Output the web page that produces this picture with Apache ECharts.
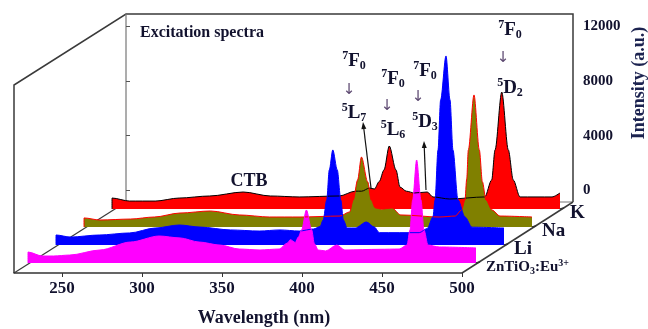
<!DOCTYPE html>
<html>
<head>
<meta charset="utf-8">
<script src="https://cdn.jsdelivr.net/npm/echarts@6/dist/echarts.min.js"></script>
</head>
<body style="margin:0">
<div id="chart" style="width:648px;height:329px"></div>
<script>
// spectra: wavelength (nm) and intensity (a.u.)
var znWl  = [220, 229, 236, 246, 265, 284, 302, 315, 327, 340, 352, 365, 377, 382, 384, 387, 389, 391, 394, 397.3, 399, 401.4, 406, 413, 418, 440, 452, 456.9, 458.75, 460.4, 462.9, 465.6, 467.5, 470, 477, 500];
var znInt = [800, 510, 510, 580, 950, 1530, 1970, 1830, 1530, 1310, 1020, 950, 1020, 1450, 1700, 1500, 1900, 2410, 3870, 2410, 1400, 950, 880, 1310, 950, 1000, 1020, 1310, 2410, 4600, 7520, 4600, 2410, 1310, 1170, 1100];

var liWl  = [220, 229, 247, 266, 282, 297, 310, 329, 347, 360, 372, 381, 385, 387, 389.2, 390.8, 393, 395.8, 398, 399.6, 402, 407, 414, 419, 422, 447, 452, 455.6, 456.9, 458.75, 460.4, 463.75, 466.25, 468.1, 471.25, 475.6, 480, 500];
var liInt = [730, 580, 730, 880, 1240, 1460, 1310, 1100, 1020, 1100, 1020, 1170, 1350, 1830, 3290, 5480, 6940, 5480, 3290, 1830, 1240, 1240, 1680, 1310, 900, 900, 1200, 2050, 3290, 6940, 10600, 13800, 10600, 6940, 3290, 2050, 1300, 1240];

var naWl  = [220, 230, 249, 264, 280, 299, 317, 336, 355, 380, 386, 388.3, 391, 393.4, 397.3, 399.5, 402, 406, 412.5, 418, 442, 452, 456, 458.1, 459.2, 460.2, 463.75, 467.1, 469, 471.25, 475, 480, 500];
var naInt = [660, 510, 580, 730, 1020, 1170, 880, 730, 730, 800, 1100, 1970, 3430, 5110, 3300, 1970, 1400, 1300, 1390, 880, 730, 800, 1240, 1970, 3500, 5620, 9640, 5620, 3300, 1970, 1240, 800, 730];

var kWl  = [220, 231, 247, 262, 281, 302, 319, 337, 362, 372, 376, 381, 384, 387, 390, 393.3, 397.5, 400, 404, 409, 417, 420.6, 431, 453, 457.3, 459.4, 463.6, 467.7, 470.8, 475, 495, 500];
var kInt = [800, 580, 580, 800, 950, 1240, 950, 880, 950, 1300, 1300, 1530, 1460, 2000, 2850, 4600, 2850, 1600, 1300, 1170, 1240, 880, 730, 880, 2120, 4310, 8540, 4310, 2120, 880, 880, 1170];

var samples = ['ZnTiO3:Eu3+', 'Li', 'Na', 'K'];          // front -> back
var sampleLabels = ['{m|ZnTiO}{d|3}{m|:Eu}{s|3+}', '{m|Li}', '{m|Na}', '{m|K}'];
var wlTicks = [250, 300, 350, 400, 450, 500];
var intTicks = [0, 4000, 8000, 12000];
var levels = ['5L7', '5L6', '5D3', '5D2'];

var FONT = '"Liberation Serif", "Times New Roman", serif';
var INK = '#12122e';

var ribbons = [
  {wl: znWl, val: znInt, fill: '#ff00ff', line: '#ff00ff'},
  {wl: liWl, val: liInt, fill: '#0000ff', line: '#0000ff'},
  {wl: naWl, val: naInt, fill: '#808000', line: '#ff0000'},
  {wl: kWl,  val: kInt,  fill: '#ff0000', line: '#000000'}
];

// pseudo 3d geometry
var fx = 14, fy = 273, plotW = 448;      // front plane
var bx = 126, by = 202, ty = 14, lx = 85; // back plane
var stepX = 28, stepY = 18;
var unitsPerPx = 73, yMax = 15000, gridH = yMax / unitsPerPx;

var grids = [], xAxes = [], yAxes = [], series = [];
ribbons.forEach(function (r, k) {
  var base = fy - 10 - stepY * k;
  grids.push({left: fx + 14 + stepX * k, top: base - gridH, width: plotW, height: gridH});
  xAxes.push({type: 'value', gridIndex: k, min: 220, max: 500, show: false});
  yAxes.push({type: 'value', gridIndex: k, min: 0, max: yMax, show: false});
});
for (var k = ribbons.length - 1; k >= 0; k--) {
  var r = ribbons[k];
  var pts = [[r.wl[0], 0]];
  r.wl.forEach(function (w, i) { pts.push([w, r.val[i]]); });
  series.push({
    type: 'line', xAxisIndex: k, yAxisIndex: k, data: pts,
    smooth: 0.3, smoothMonotone: 'x', showSymbol: false, silent: true,
    lineStyle: {color: r.line, width: 1},
    areaStyle: {color: r.fill, opacity: 1}
  });
}

// front wavelength axis
grids.push({left: fx, top: fy - 100, width: plotW, height: 100});
xAxes.push({
  type: 'value', gridIndex: 4, min: 220, max: 500,
  axisLine: {lineStyle: {color: '#333', width: 1.5}},
  axisTick: {length: 4, customValues: wlTicks, lineStyle: {color: '#333'}},
  axisLabel: {customValues: wlTicks, margin: 7, fontFamily: FONT, fontWeight: 'bold', fontSize: 17, color: INK},
  splitLine: {show: false}
});
yAxes.push({type: 'value', gridIndex: 4, show: false});

// back intensity axis
grids.push({left: bx, top: 26, width: 447, height: 164.6});
xAxes.push({type: 'value', gridIndex: 5, show: false});
yAxes.push({
  type: 'value', gridIndex: 5, position: 'right', min: 0, max: 12000, interval: 4000,
  axisLine: {show: false},
  axisTick: {show: true, length: 4, customValues: intTicks, lineStyle: {color: '#555'}},
  axisLabel: {margin: 10, customValues: intTicks, formatter: function (v) { return String(v); },
    fontFamily: FONT, fontWeight: 'bold', fontSize: 15, color: INK},
  splitLine: {show: false}
});

var bR = bx + plotW - 1;
var frame = {stroke: '#3a3a3a', lineWidth: 1.5, fill: null};
var graphics = [
  {type: 'polyline', z: 0, shape: {points: [[fx, fy], [fx, lx], [bx, ty], [bR, ty], [bR, by]]}, style: frame},
  {type: 'polyline', z: 0, shape: {points: [[bx, ty], [bx, by], [bR, by]]}, style: {stroke: '#777', lineWidth: 1.2, fill: null}},
  {type: 'polyline', z: 0, shape: {points: [[fx, fy], [bx, by]]}, style: {stroke: '#3a3a3a', lineWidth: 1.2, fill: null}},
  {type: 'polyline', z: 0, shape: {points: [[fx + plotW, fy], [bR, by]]}, style: frame}
];

function richSet(main, small, lh) {
  return {
    m: {fontFamily: FONT, fontWeight: 'bold', fontSize: main, lineHeight: lh, fill: INK},
    s: {fontFamily: FONT, fontWeight: 'bold', fontSize: small, verticalAlign: 'top', fill: INK},
    d: {fontFamily: FONT, fontWeight: 'bold', fontSize: small, verticalAlign: 'bottom', fill: INK}
  };
}

// sample ticks and labels along the depth axis
samples.forEach(function (s, k) {
  var tx = fx + plotW + 18 + stepX * k, tyy = fy - 11 - stepY * k;
  graphics.push({type: 'line', z: 0, shape: {x1: tx, y1: tyy, x2: tx - 4, y2: tyy + 1}, style: {stroke: '#333', lineWidth: 1.5}});
  graphics.push({type: 'text', z: 10, x: tx + 6, y: tyy + 5, style: {
    text: sampleLabels[k], rich: richSet(k === 0 ? 15 : 19, 10, 18), align: 'left', verticalAlign: 'middle'}});
});

// transition labels
var transPos = [[354, 61, 349, 90, 113], [393, 79, 387, 106, 130], [425, 71, 418, 97, 122], [510, 30, 503, 58, 88]];
levels.forEach(function (lv, i) {
  var p = transPos[i];
  graphics.push({type: 'text', z: 10, x: p[0], y: p[1], style: {text: '{s|7}{m|F}{d|0}', rich: richSet(19, 12, 22), align: 'center', verticalAlign: 'middle'}});
  graphics.push({type: 'text', z: 10, x: p[2], y: p[3], style: {text: '\u2193', font: '15px "DejaVu Sans"', fill: '#5e4a72', align: 'center', verticalAlign: 'middle'}});
  graphics.push({type: 'text', z: 10, x: p[0], y: p[4], style: {text: '{s|' + lv[0] + '}{m|' + lv[1] + '}{d|' + lv[2] + '}', rich: richSet(19, 12, 22), align: 'center', verticalAlign: 'middle'}});
});

function arrow(x1, y1, x2, y2) {
  var dx = x2 - x1, dy = y2 - y1, len = Math.sqrt(dx * dx + dy * dy), ux = dx / len, uy = dy / len;
  var hx = x2 - ux * 7, hy = y2 - uy * 7;
  return [
    {type: 'line', z: 20, shape: {x1: x1, y1: y1, x2: hx, y2: hy}, style: {stroke: '#111', lineWidth: 1.2}},
    {type: 'polygon', z: 20, shape: {points: [[x2, y2], [hx - uy * 2.5, hy + ux * 2.5], [hx + uy * 2.5, hy - ux * 2.5]]}, style: {fill: '#111'}}
  ];
}
graphics = graphics.concat(arrow(371, 188, 363, 122), arrow(426, 190, 424, 141));

graphics.push(
  {type: 'text', z: 10, x: 140, y: 33, style: {text: 'Excitation spectra', font: 'bold 16px ' + FONT, fill: INK, verticalAlign: 'middle'}},
  {type: 'text', z: 10, x: 249, y: 181, style: {text: 'CTB', font: 'bold 18px ' + FONT, fill: INK, align: 'center', verticalAlign: 'middle'}},
  {type: 'text', z: 10, x: 264, y: 318, style: {text: 'Wavelength (nm)', font: 'bold 18px ' + FONT, fill: INK, align: 'center', verticalAlign: 'middle'}},
  {type: 'text', z: 10, x: 639, y: 83, rotation: Math.PI / 2, style: {text: 'Intensity (a.u.)', font: 'bold 18px ' + FONT, fill: '#1c2350', align: 'center', verticalAlign: 'middle'}}
);

var chart = echarts.init(document.getElementById('chart'));
chart.setOption({
  animation: false,
  backgroundColor: '#ffffff',
  grid: grids,
  xAxis: xAxes,
  yAxis: yAxes,
  series: series,
  graphic: graphics
});
</script>
</body>
</html>
